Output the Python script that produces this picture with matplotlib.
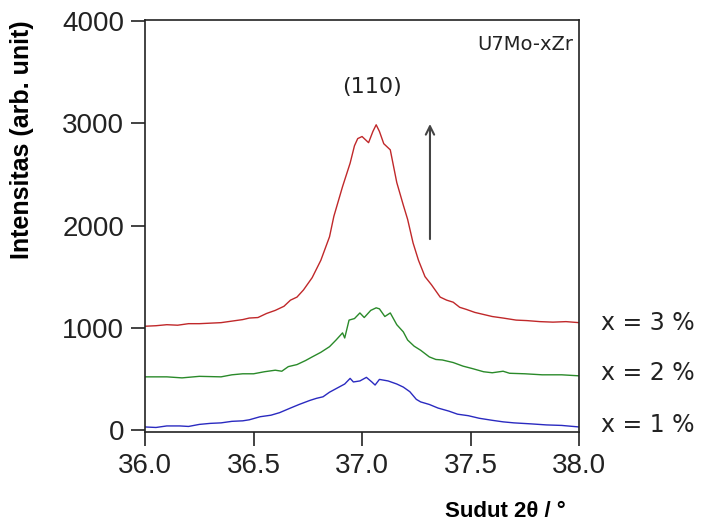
import matplotlib
matplotlib.use("Agg")
import matplotlib.pyplot as plt

plt.rcParams['font.family'] = ['Liberation Sans', 'DejaVu Sans']

# x = 3 %
two_theta_3 = [36.00, 36.05, 36.10, 36.15, 36.20, 36.25, 36.30, 36.35, 36.40, 36.45,
               36.48, 36.52, 36.56, 36.60, 36.64, 36.67, 36.70, 36.73, 36.77, 36.81,
               36.85, 36.87, 36.91, 36.945, 36.965, 36.98, 37.00, 37.03, 37.05, 37.065,
               37.08, 37.10, 37.13, 37.16, 37.19, 37.21, 37.235, 37.26, 37.29, 37.32,
               37.36, 37.39, 37.42, 37.45, 37.48, 37.52, 37.56, 37.60, 37.65, 37.71,
               37.76, 37.82, 37.88, 37.94, 38.00]
intensity_3 = [1015, 1020, 1030, 1025, 1040, 1040, 1045, 1050, 1065, 1080,
               1095, 1100, 1140, 1170, 1210, 1270, 1300, 1370, 1490, 1660,
               1890, 2090, 2380, 2610, 2780, 2850, 2870, 2810, 2920, 2985,
               2920, 2800, 2740, 2420, 2200, 2060, 1830, 1660, 1500, 1420,
               1300, 1270, 1250, 1200, 1180, 1150, 1130, 1110, 1095, 1075,
               1070, 1060, 1055, 1060, 1050]

# x = 2 %
two_theta_2 = [36.00, 36.10, 36.17, 36.25, 36.35, 36.40, 36.45, 36.50, 36.55, 36.60,
               36.63, 36.66, 36.70, 36.74, 36.77, 36.81, 36.85, 36.88, 36.91, 36.92,
               36.94, 36.965, 36.99, 37.01, 37.04, 37.065, 37.08, 37.105, 37.13, 37.16,
               37.19, 37.21, 37.24, 37.27, 37.31, 37.34, 37.37, 37.42, 37.465, 37.51,
               37.56, 37.60, 37.65, 37.68, 37.75, 37.83, 37.92, 38.00]
intensity_2 = [520, 520, 510, 525, 520, 540, 550, 550, 570, 585,
               575, 620, 640, 680, 715, 760, 815, 880, 950, 900,
               1075, 1090, 1145, 1100, 1170, 1195, 1185, 1110, 1145, 1030,
               960, 880, 820, 780, 715, 690, 685, 660, 625, 600,
               570, 560, 575, 555, 550, 540, 540, 530]

# x = 1 %
two_theta_1 = [36.00, 36.05, 36.10, 36.16, 36.20, 36.25, 36.30, 36.35, 36.40, 36.45,
               36.48, 36.53, 36.58, 36.62, 36.67, 36.71, 36.76, 36.79, 36.82, 36.85,
               36.885, 36.92, 36.945, 36.96, 36.99, 37.02, 37.045, 37.06, 37.08, 37.12,
               37.16, 37.19, 37.22, 37.25, 37.27, 37.31, 37.35, 37.40, 37.44, 37.49,
               37.54, 37.60, 37.65, 37.70, 37.78, 37.85, 37.92, 38.00]
intensity_1 = [30, 25, 40, 40, 35, 55, 65, 70, 85, 90,
               100, 130, 145, 170, 215, 250, 290, 310, 325, 370,
               410, 450, 505, 470, 480, 515, 470, 440, 495, 480,
               450, 420, 375, 300, 275, 250, 215, 185, 155, 140,
               115, 95, 80, 70, 60, 50, 45, 30]

series_labels = ['x = 3 %', 'x = 2 %', 'x = 1 %']
label_levels = [1050, 560, 50]
x_ticks = [36.0, 36.5, 37.0, 37.5, 38.0]
y_ticks = [0, 1000, 2000, 3000, 4000]

fig = plt.figure(figsize=(7.01, 5.25), dpi=100)
ax = fig.add_axes([0.207, 0.177, 0.619, 0.785])

ax.plot(two_theta_3, intensity_3, color='#c0282a', lw=1.0)
ax.plot(two_theta_2, intensity_2, color='#2a8a2a', lw=1.0)
ax.plot(two_theta_1, intensity_1, color='#2a2ac0', lw=1.0)

ax.set_xlim(36.0, 38.0)
ax.set_ylim(-20, 4010)
ax.set_xticks(x_ticks)
ax.set_xticklabels([f'{t:.1f}' for t in x_ticks])
ax.set_yticks(y_ticks)
ax.tick_params(direction='out', length=10, width=1.2, labelsize=20,
               colors='#222222', pad=5)
for s in ax.spines.values():
    s.set_linewidth(1.2)
    s.set_color('#222222')

ax.set_ylabel('Intensitas (arb. unit)', fontsize=18, fontweight='bold')
ax.yaxis.set_label_coords(-0.255, 0.71)
ax.set_xlabel('Sudut 2θ / °', fontsize=16, fontweight='bold')
ax.xaxis.set_label_coords(0.83, -0.168)

ax.text(37.75, 3770, 'U7Mo-xZr', fontsize=14, family='DejaVu Sans',
        ha='center', va='center', color='#222222')
ax.text(37.046, 3350, '(110)', fontsize=16, family='DejaVu Sans',
        ha='center', va='center', color='#222222')
ax.annotate('', xy=(37.313, 3020), xytext=(37.313, 1840),
            arrowprops=dict(arrowstyle='->,head_length=0.6,head_width=0.3',
                            color='#444444', lw=1.5))

for lab, lev in zip(series_labels, label_levels):
    ax.text(38.10, lev, lab, fontsize=17, family='DejaVu Sans',
            ha='left', va='center', color='#222222', clip_on=False)

fig.savefig('out.png', dpi=100)
